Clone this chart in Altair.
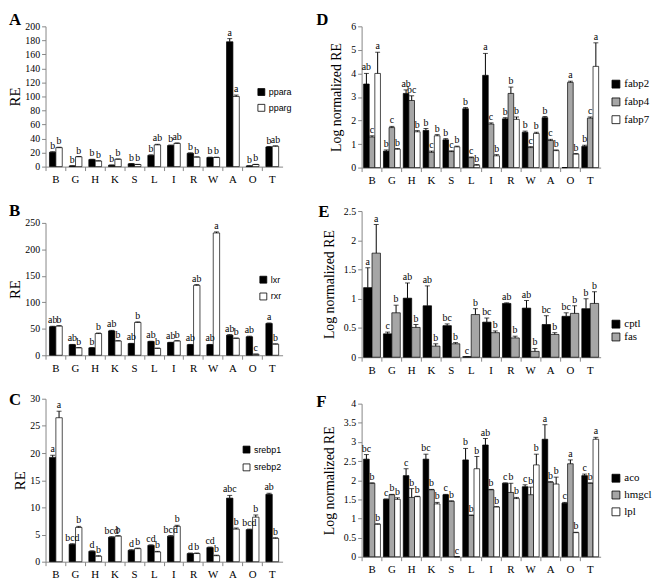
import altair as alt
import pandas as pd

cats = ["B", "G", "H", "K", "S", "L", "I", "R", "W", "A", "O", "T"]
panel_letters = ["A", "B", "C", "D", "E", "F"]

# ---------------- Panel A ----------------
a_series = ["ppara", "pparg"]
a_ppara = [20.5, 1.0, 10.0, 2.0, 4.0, 16.0, 30.0, 19.0, 13.0, 178.0, 1.0, 28.0]
a_ppara_err = [0.6, 0.2, 0.5, 0.3, 0.3, 0.8, 0.8, 0.6, 0.5, 4.5, 0.2, 0.6]
a_ppara_lbl = ["b", "b", "b", "b", "b", "b", "b", "b", "b", "a", "b", "b"]
a_pparg = [27.0, 14.0, 8.0, 10.5, 3.0, 31.0, 33.0, 13.5, 13.0, 100.0, 3.0, 29.0]
a_pparg_err = [0.6, 0.4, 0.3, 0.4, 0.2, 0.8, 0.8, 0.4, 0.4, 2.0, 0.2, 0.6]
a_pparg_lbl = ["b", "b", "b", "b", "b", "ab", "ab", "b", "b", "a", "b", "ab"]

# ---------------- Panel B ----------------
b_series = ["lxr", "rxr"]
b_lxr = [54, 20, 14, 46, 22, 26, 24, 20, 20, 38, 35, 60]
b_lxr_err = [1, 0.5, 0.5, 1, 0.5, 0.5, 0.5, 0.5, 0.5, 1, 1, 1]
b_lxr_lbl = ["ab", "ab", "b", "ab", "ab", "ab", "ab", "ab", "ab", "ab", "ab", "a"]
b_rxr = [55, 14, 41, 27, 62, 13, 27, 132, 231, 32, 2, 21]
b_rxr_err = [1, 0.5, 1, 0.5, 1, 0.5, 0.5, 1.5, 2, 0.5, 0.2, 0.5]
b_rxr_lbl = ["b", "b", "b", "b", "b", "b", "b", "ab", "a", "b", "c", "b"]

# ---------------- Panel C ----------------
c_series = ["srebp1", "srebp2"]
c_s1 = [19.2, 3.2, 1.9, 4.5, 2.1, 3.0, 4.7, 1.5, 2.6, 11.7, 5.9, 12.4]
c_s1_err = [0.4, 0.1, 0.1, 0.1, 0.1, 0.1, 0.1, 0.1, 0.1, 0.5, 0.1, 0.2]
c_s1_lbl = ["a", "bcd", "d", "bcd", "d", "cd", "bcd", "d", "cd", "abc", "bcd", "ab"]
c_s2 = [26.5, 6.3, 1.0, 4.7, 2.4, 1.8, 6.5, 1.5, 1.1, 6.0, 8.2, 4.3]
c_s2_err = [1.2, 0.2, 0.1, 0.1, 0.1, 0.1, 0.2, 0.1, 0.1, 0.2, 0.4, 0.1]
c_s2_lbl = ["a", "b", "b", "b", "b", "b", "b", "b", "b", "b", "b", "b"]

# ---------------- Panel D ----------------
d_series = ["fabp2", "fabp4", "fabp7"]
d_f2 = [3.55, 0.7, 3.15, 1.58, 1.18, 2.5, 3.92, 2.07, 1.5, 2.12, 0.0, 0.9]
d_f2_err = [0.45, 0.05, 0.15, 0.08, 0.05, 0.05, 0.93, 0.05, 0.05, 0.05, 0.0, 0.05]
d_f2_lbl = ["ab", "b", "ab", "b", "b", "b", "a", "b", "b", "b", "", "b"]
d_f4 = [1.3, 1.7, 2.85, 0.65, 0.68, 0.42, 1.85, 3.15, 0.85, 1.15, 3.62, 2.1]
d_f4_err = [0.05, 0.05, 0.2, 0.05, 0.03, 0.03, 0.05, 0.27, 0.04, 0.05, 0.05, 0.05]
d_f4_lbl = ["c", "c", "bc", "c", "c", "c", "c", "b", "c", "c", "a", "c"]
d_f7 = [4.0, 0.78, 1.52, 1.35, 0.88, 0.1, 0.5, 2.05, 1.45, 0.72, 0.57, 4.3]
d_f7_err = [0.9, 0.03, 0.05, 0.05, 0.03, 0.03, 0.05, 0.1, 0.05, 0.03, 0.03, 1.0]
d_f7_lbl = ["a", "b", "b", "b", "b", "b", "b", "b", "b", "b", "b", "a"]

# ---------------- Panel E ----------------
e_series = ["cptl", "fas"]
e_cptl = [1.19, 0.4, 1.01, 0.88, 0.54, 0.01, 0.6, 0.92, 0.84, 0.56, 0.7, 0.83]
e_cptl_err = [0.34, 0.03, 0.26, 0.34, 0.03, 0.0, 0.07, 0.01, 0.13, 0.15, 0.06, 0.17]
e_cptl_lbl = ["a", "c", "ab", "ab", "bc", "c", "bc", "ab", "ab", "bc", "bc", "b"]
e_fas = [1.78, 0.76, 0.51, 0.19, 0.23, 0.73, 0.42, 0.33, 0.1, 0.39, 0.75, 0.92]
e_fas_err = [0.49, 0.13, 0.05, 0.04, 0.02, 0.1, 0.03, 0.03, 0.05, 0.03, 0.13, 0.2]
e_fas_lbl = ["a", "b", "b", "b", "b", "b", "b", "b", "b", "b", "b", "b"]

# ---------------- Panel F ----------------
f_series = ["aco", "hmgcl", "lpl"]
f_aco = [2.55, 1.5, 2.12, 2.55, 1.62, 2.53, 2.92, 1.92, 1.83, 3.07, 1.4, 2.12]
f_aco_err = [0.12, 0.01, 0.18, 0.13, 0.01, 0.3, 0.17, 0.01, 0.05, 0.38, 0.02, 0.04]
f_aco_lbl = ["bc", "c", "c", "bc", "c", "b", "ab", "c", "c", "a", "c", "c"]
f_hmg = [1.92, 1.62, 1.55, 1.75, 1.45, 1.08, 1.75, 1.68, 1.62, 1.95, 2.43, 1.92]
f_hmg_err = [0.01, 0.01, 0.23, 0.01, 0.01, 0.01, 0.01, 0.24, 0.2, 0.01, 0.1, 0.01]
f_hmg_lbl = ["b", "b", "b", "b", "b", "b", "b", "b", "b", "b", "a", "b"]
f_lpl = [0.85, 1.5, 1.57, 1.38, 0.0, 2.3, 1.3, 1.52, 2.4, 1.9, 0.63, 3.07]
f_lpl_err = [0.01, 0.04, 0.01, 0.04, 0.0, 0.32, 0.01, 0.03, 0.28, 0.18, 0.01, 0.05]
f_lpl_lbl = ["b", "b", "b", "b", "c", "b", "b", "b", "b", "b", "b", "a"]

SERIF = "Liberation Serif"
GRAY = "#a6a6a6"


def make_panel(letter, lpos, series, vals, errs, lbls, colors, ymax, ystep,
               ytitle, tsize, tpad, w, h, pin, pout, leg):
    rows = []
    for s, v, e, l in zip(series, vals, errs, lbls):
        for c, vv, ee, ll in zip(cats, v, e, l):
            rows.append({"cat": c, "series": s, "value": vv, "top": vv + ee, "label": ll})
    df = pd.DataFrame(rows)

    yvals = []
    k = 0
    while k * ystep <= ymax + 1e-9:
        yvals.append(round(k * ystep, 4))
        k += 1

    bp = -pin / (2 * (1 - pin))
    xenc = alt.X("cat:N", title=None,
                 scale=alt.Scale(domain=cats, paddingInner=pin, paddingOuter=pout),
                 axis=alt.Axis(labelAngle=0, bandPosition=bp, tickSize=4,
                               labelFontSize=11, labelPadding=3, labelFont=SERIF))
    xoff = alt.XOffset("series:N", scale=alt.Scale(domain=series, paddingInner=0, paddingOuter=0))
    yscale = alt.Scale(domain=[0, ymax], nice=False)
    yaxis = alt.Axis(values=yvals, format=".1~f", title=ytitle, titleFontSize=tsize,
                     titleFont=SERIF, titleFontWeight="normal", titlePadding=tpad,
                     labelFontSize=10, labelFont=SERIF, tickSize=4, labelPadding=2)

    base = alt.Chart(df).encode(x=xenc, xOffset=xoff)
    bars = base.mark_bar(stroke="black", strokeWidth=0.7).encode(
        y=alt.Y("value:Q", scale=yscale, axis=yaxis),
        color=alt.Color("series:N",
                        scale=alt.Scale(domain=series, range=colors),
                        legend=alt.Legend(title=None, orient="none",
                                          legendX=leg["x"], legendY=leg["y"],
                                          symbolType="square", symbolSize=leg["sym"],
                                          symbolStrokeColor="black", symbolStrokeWidth=0.8,
                                          labelFont=leg["font"], labelFontSize=leg["fs"],
                                          rowPadding=leg["rp"], labelOffset=3, padding=0)),
    )
    err = base.mark_rule(color="black", strokeWidth=1).encode(
        y=alt.Y("value:Q", scale=yscale, axis=yaxis), y2="top:Q")
    cap = base.mark_tick(color="black", size=5, thickness=1).encode(
        y=alt.Y("top:Q", scale=yscale, axis=yaxis))
    txt = base.mark_text(baseline="bottom", dy=-1, font=SERIF, fontSize=10, color="black").encode(
        y=alt.Y("top:Q", scale=yscale, axis=yaxis), text="label:N")
    lab = alt.Chart(pd.DataFrame({"t": [letter]})).mark_text(
        align="left", baseline="top", font=SERIF, fontSize=17, fontWeight="bold", color="black"
    ).encode(x=alt.value(lpos[0]), y=alt.value(lpos[1]), text="t:N")
    return alt.layer(bars, err, cap, txt, lab).properties(width=w, height=h)


LW, RW = 240, 242
left_leg = {"font": "Liberation Sans", "fs": 9, "sym": 49}
right_leg = {"font": SERIF, "fs": 11, "sym": 64}

pA = make_panel(panel_letters[0], (-37, -14), a_series, [a_ppara, a_pparg],
                [a_ppara_err, a_pparg_err], [a_ppara_lbl, a_pparg_lbl],
                ["black", "white"], 200, 20, "RE", 15, 2, LW, 142, 0.35, 0.2,
                dict(left_leg, x=214, y=62, rp=5))
pB = make_panel(panel_letters[1], (-37, -20), b_series, [b_lxr, b_rxr],
                [b_lxr_err, b_rxr_err], [b_lxr_lbl, b_rxr_lbl],
                ["black", "white"], 250, 50, "RE", 15, 2, LW, 134, 0.35, 0.2,
                dict(left_leg, x=216, y=53, rp=6))
pC = make_panel(panel_letters[2], (-37, -7), c_series, [c_s1, c_s2],
                [c_s1_err, c_s2_err], [c_s1_lbl, c_s2_lbl],
                ["black", "white"], 30, 5, "RE", 15, 2, LW, 165, 0.35, 0.2,
                dict(left_leg, x=199, y=47, rp=7))

pD = make_panel(panel_letters[3], (-46, -14), d_series, [d_f2, d_f4, d_f7],
                [d_f2_err, d_f4_err, d_f7_err], [d_f2_lbl, d_f4_lbl, d_f7_lbl],
                ["black", GRAY, "white"], 6, 1, "Log normalized RE", 14, 7, RW, 143, 0.15, 0.1,
                dict(right_leg, x=RW + 10, y=53, rp=5))
pE = make_panel(panel_letters[4], (-44, -7), e_series, [e_cptl, e_fas],
                [e_cptl_err, e_fas_err], [e_cptl_lbl, e_fas_lbl],
                ["black", GRAY], 2.5, 0.5, "Log normalized RE", 14, 7, RW, 148, 0.15, 0.1,
                dict(right_leg, x=RW + 10, y=109, rp=0))
pF = make_panel(panel_letters[5], (-46, -10), f_series, [f_aco, f_hmg, f_lpl],
                [f_aco_err, f_hmg_err, f_lpl_err], [f_aco_lbl, f_hmg_lbl, f_lpl_lbl],
                ["black", GRAY, "white"], 4, 0.5, "Log normalized RE", 14, 7, RW, 155, 0.15, 0.1,
                dict(right_leg, x=RW + 10, y=70, rp=4))

res = dict(color="independent", xOffset="independent")
left = alt.vconcat(pA, pB, pC, spacing=18).resolve_scale(**res)
right = alt.vconcat(pD, pE, pF, spacing=18).resolve_scale(**res)

chart = (
    alt.hconcat(left, right, spacing=24)
    .resolve_scale(**res)
    .properties(padding=0)
    .configure_view(stroke=None)
    .configure_axis(grid=False, domainColor="#868686", tickColor="#868686",
                    labelColor="black", titleColor="black")
)

chart.save("out.html", embed_options={"renderer": "svg", "actions": False})
